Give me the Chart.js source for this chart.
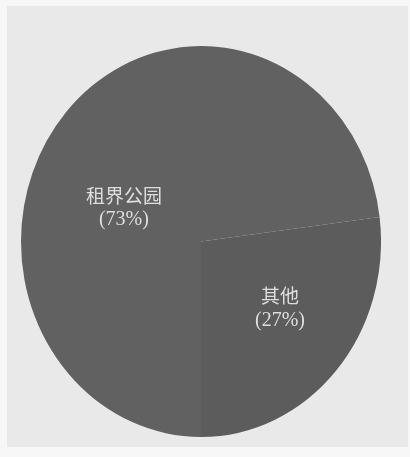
<!DOCTYPE html>
<html>
<head>
<meta charset="utf-8">
<script src="https://cdn.jsdelivr.net/npm/chart.js@4"></script>
<style>
  html, body { margin: 0; padding: 0; }
  body { width: 410px; height: 457px; background: #f7f7f7; position: relative; overflow: hidden; }
  .paper { position: absolute; left: 7px; top: 6px; width: 401px; height: 441px; background: #e9e9e9; }
  #pie { position: absolute; left: 21px; top: 46px; }
</style>
</head>
<body>
<div class="paper"></div>
<canvas id="pie" width="360" height="391"></canvas>
<script>
// data
const slices = ["租界公园", "其他"];
const shares = [73, 27];
const colors = ["#616161", "#5c5c5c"];

// pie is drawn a little taller than wide, like the scanned figure
const stretchY = 391 / 360;

function squash(chart) {
    const meta = chart.getDatasetMeta(0);
    const cx = meta.data[0].x, cy = meta.data[0].y;
    const ctx = chart.ctx;
    ctx.translate(cx, cy);
    ctx.scale(1, stretchY);
    ctx.translate(-cx, -cy);
}

const ovalPie = {
    id: "ovalPie",
    beforeDatasetsDraw(chart) {
        chart.ctx.save();
        squash(chart);
    },
    afterDatasetsDraw(chart, args, opts) {
        chart.ctx.restore();
        const ctx = chart.ctx;
        const meta = chart.getDatasetMeta(0);
        ctx.save();
        ctx.fillStyle = opts.color;
        ctx.textAlign = "center";
        ctx.textBaseline = "middle";
        meta.data.forEach(function (arc, i) {
            const mid = (arc.startAngle + arc.endAngle) / 2 + opts.turn[i] * Math.PI / 180;
            const r = arc.outerRadius * opts.reach[i];
            const x = arc.x + Math.cos(mid) * r;
            const y = arc.y + Math.sin(mid) * r * stretchY;
            ctx.font = "19px 'Liberation Serif', 'Noto Sans CJK SC'";
            ctx.fillText(slices[i], x, y - 11);
            ctx.font = "20px 'Liberation Serif', 'Noto Sans CJK SC'";
            ctx.fillText("(" + shares[i] + "%)", x, y + 11);
        });
        ctx.restore();
    }
};

new Chart(document.querySelector("#pie"), {
    type: "pie",
    data: {
        labels: slices,
        datasets: [{
            data: shares,
            backgroundColor: colors,
            borderColor: "#5f5f5f",
            borderWidth: 0
        }]
    },
    options: {
        responsive: false,
        animation: false,
        rotation: 180,
        layout: { padding: 0 },
        plugins: {
            legend: { display: false },
            tooltip: { enabled: false },
            ovalPie: { color: "#dedede", turn: [-20, -3], reach: [0.46, 0.56] }
        }
    },
    plugins: [ovalPie]
});
</script>
</body>
</html>
